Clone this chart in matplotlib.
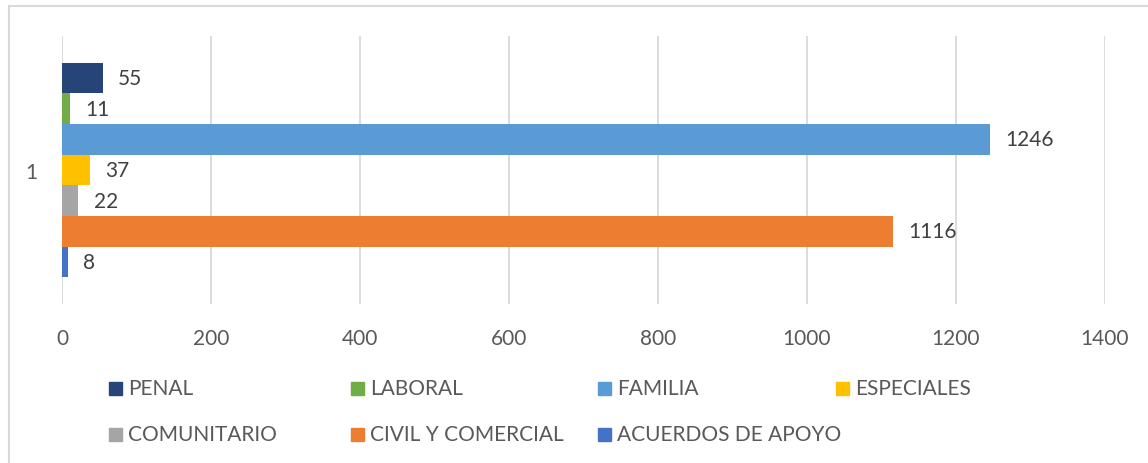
import matplotlib
matplotlib.use("Agg")
import matplotlib.pyplot as plt
from matplotlib.patches import Rectangle
from matplotlib.lines import Line2D

# data
series = ["PENAL", "LABORAL", "FAMILIA", "ESPECIALES",
          "COMUNITARIO", "CIVIL Y COMERCIAL", "ACUERDOS DE APOYO"]
values = [55, 11, 1246, 37, 22, 1116, 8]
colors = ["#264478", "#70AD47", "#5B9BD5", "#FFC000",
          "#A5A5A5", "#ED7D31", "#4472C4"]
category = ["1"]

plt.rcParams['font.family'] = ['Lato', 'DejaVu Sans']
FS = 15

fig = plt.figure(figsize=(11.48, 4.64), dpi=100)
ax = fig.add_axes([62 / 1148, 1 - 305 / 464, (1105 - 62) / 1148, 268 / 464])

n = len(series)
h = 0.8 / n
for i, (name, val, col) in enumerate(zip(series, values, colors)):
    y = (n - 1) / 2 * h - i * h
    ax.barh(y, val, height=h, color=col, label=name, zorder=3)
    ax.annotate(str(val), (val, y), xytext=(11, 0), textcoords='offset points',
                ha='left', va='center', fontsize=FS, color='#404040')

ax.set_xlim(0, 1400)
ax.set_ylim(-0.5, 0.5)
ax.set_xticks(range(0, 1401, 200))
ax.set_yticks([0])
ax.set_yticklabels(category)
ax.tick_params(axis='both', length=0, labelsize=FS, labelcolor='#595959')
ax.tick_params(axis='x', pad=17)
ax.tick_params(axis='y', pad=18)
ax.grid(True, axis='x', color='#d9d9d9', linewidth=1.3, zorder=0)
for s in ax.spines.values():
    s.set_visible(False)

# outer frame (only top and left edges visible in the screenshot)
fig.add_artist(Line2D([9 / 1148, 9 / 1148], [0, 1 - 7 / 464],
                      transform=fig.transFigure, color='#d9d9d9', lw=1.5))
fig.add_artist(Line2D([9 / 1148, 1], [1 - 7 / 464, 1 - 7 / 464],
                      transform=fig.transFigure, color='#d9d9d9', lw=1.5))

# legend laid out like the Excel one: 4 equal columns, row-major
col_x = [109, 351, 598, 836]
row_y = [389, 435]
for i, (name, col) in enumerate(zip(series, colors)):
    r, c = divmod(i, 4)
    x0 = col_x[c] / 1148
    y0 = 1 - row_y[r] / 464
    fig.add_artist(Rectangle((x0, y0 - 6.5 / 464), 13 / 1148, 13 / 464,
                             transform=fig.transFigure, color=col))
    fig.text(x0 + 19 / 1148, y0, name, ha='left', va='center',
             fontsize=FS, color='#595959')

fig.savefig("out.png", dpi=100)
